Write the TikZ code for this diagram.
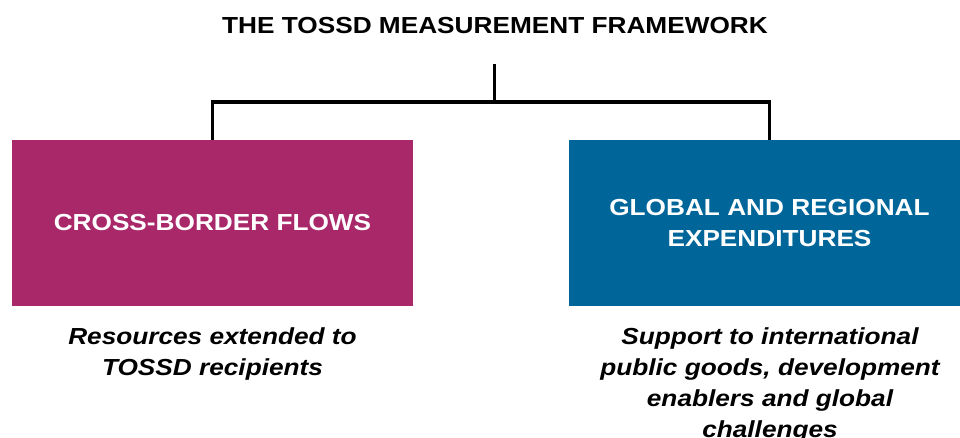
\documentclass[tikz,border=0pt]{standalone}
\usepackage{fontspec}
\setmainfont[FakeStretch=1.13]{Liberation Sans}
\definecolor{magentabox}{HTML}{A8286A}
\definecolor{bluebox}{HTML}{00669A}
\begin{document}
\begin{tikzpicture}[x=1pt,y=-1pt,
  conn/.style={line width=3.5pt,black},
  titletext/.style={font=\fontsize{23.2}{31}\selectfont\bfseries,inner sep=0pt,anchor=base},
  bigbox/.style={minimum width=401pt,minimum height=166pt,inner sep=0pt,text=white,
    font=\fontsize{23.2}{31}\selectfont\bfseries,align=center},
  captiontext/.style={font=\fontsize{23.2}{31}\selectfont\bfseries\itshape,align=center,
    inner sep=0pt,anchor=north}]
\clip (0,0) rectangle (960,438);
\node[titletext] (title) at (495,33.3) {THE TOSSD MEASUREMENT FRAMEWORK};
\node[bigbox,fill=magentabox] (cbf) at (212.5,223) {CROSS-BORDER FLOWS};
\node[bigbox,fill=bluebox] (gre) at (769.5,223) {GLOBAL AND REGIONAL\\EXPENDITURES};
\node[captiontext] (capl) at (212.5,327.7) {Resources extended to\\TOSSD recipients};
\node[captiontext] (capr) at (770,327.7) {Support to international\\public goods, development\\enablers and global\\challenges};
\coordinate (hub) at (494.5,64);
\coordinate (bar) at (494.5,102);
\draw[conn] (hub) -- (bar);
\draw[conn] (bar) -| (cbf.north);
\draw[conn] (bar) -| (gre.north);
\end{tikzpicture}
\end{document}
